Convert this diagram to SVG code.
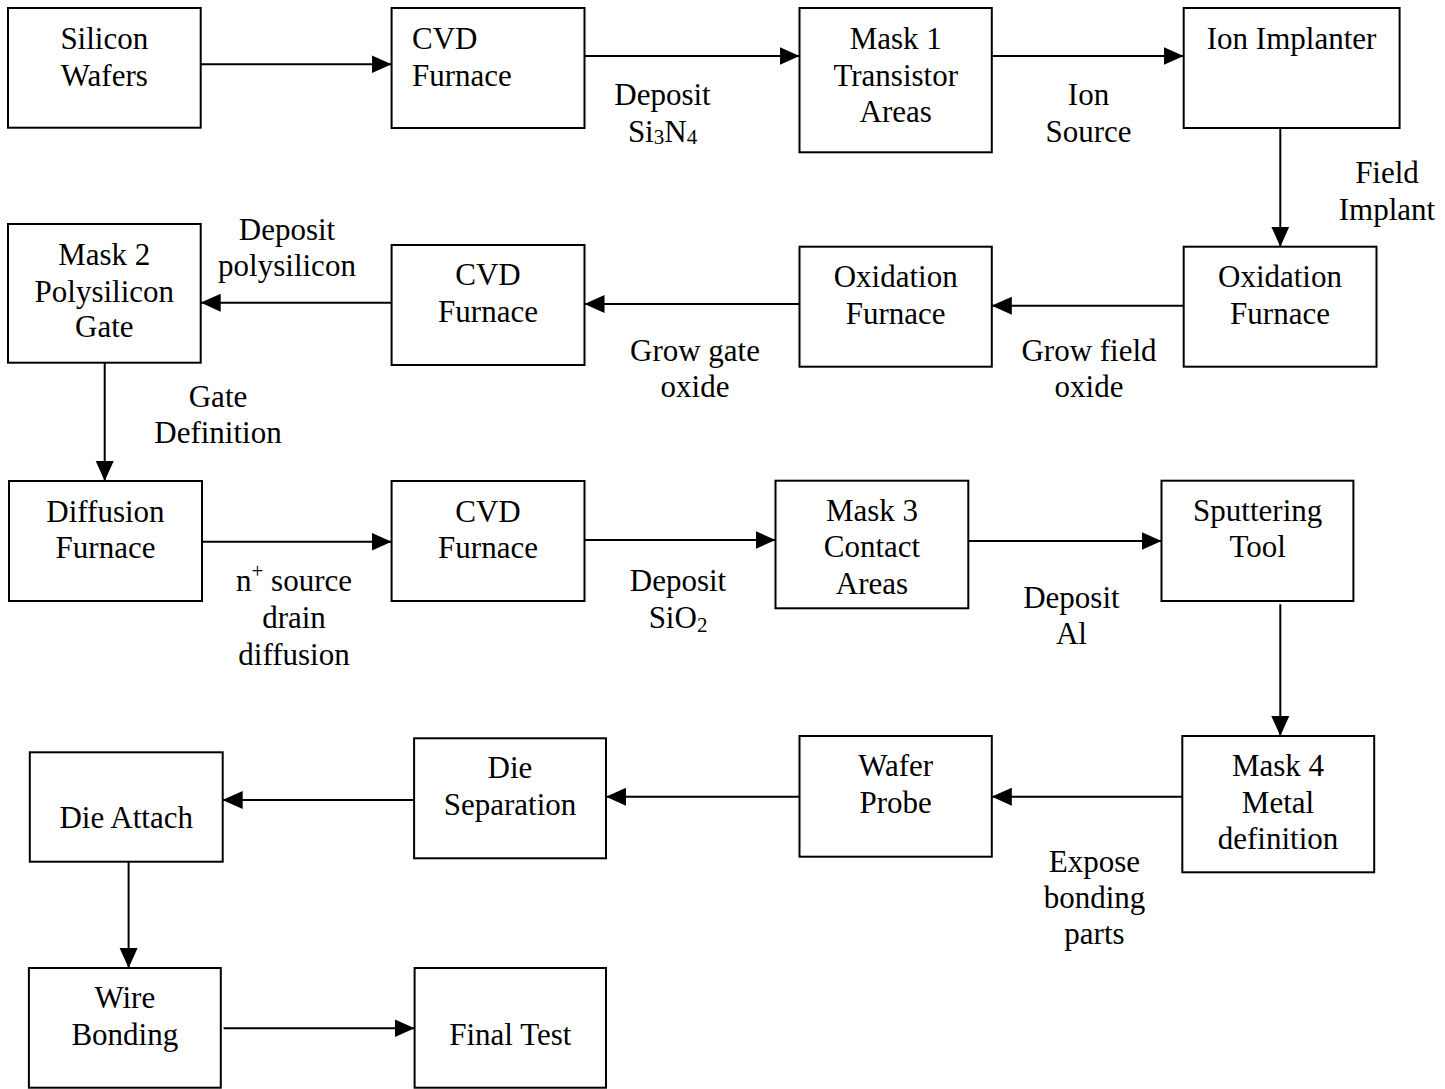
<svg xmlns="http://www.w3.org/2000/svg" width="1445" height="1089" viewBox="0 0 1445 1089">
<defs>
<style>
rect.box{fill:#fff;stroke:#000;stroke-width:2}
text{font-family:"Liberation Serif","Times New Roman",serif;font-size:31px;fill:#000}
.c{text-anchor:middle}
.conn line{stroke:#000;stroke-width:2;marker-end:url(#ah)}
.sub{font-size:21px}
</style>
<marker id="ah" markerUnits="userSpaceOnUse" markerWidth="20" markerHeight="20" viewBox="0 0 20 20" refX="20" refY="10" orient="auto">
<path d="M0,1 L20,10 L0,19 z" fill="#000"/>
</marker>
</defs>
<rect width="1445" height="1089" fill="#fff"/>

<g id="connectors" class="conn">
<line x1="200.7" y1="64.3" x2="391.6" y2="64.3"/>
<line x1="584.5" y1="56" x2="799.5" y2="56"/>
<line x1="991.8" y1="56" x2="1183.7" y2="56"/>
<line x1="1280.3" y1="128" x2="1280.3" y2="246.7"/>
<line x1="1183.7" y1="305.7" x2="991.8" y2="305.7"/>
<line x1="799.5" y1="304" x2="584.5" y2="304"/>
<line x1="391.6" y1="302.7" x2="200.7" y2="302.7"/>
<line x1="104.7" y1="362.7" x2="104.7" y2="481"/>
<line x1="200" y1="541.7" x2="391.6" y2="541.7"/>
<line x1="584.5" y1="540" x2="775.5" y2="540"/>
<line x1="968.3" y1="541" x2="1161.5" y2="541"/>
<line x1="1280.3" y1="604.3" x2="1280.3" y2="736"/>
<line x1="1184.6" y1="796.7" x2="991.8" y2="796.7"/>
<line x1="799.5" y1="796.7" x2="606" y2="796.7"/>
<line x1="417" y1="800" x2="222.7" y2="800"/>
<line x1="128.6" y1="861.7" x2="128.6" y2="968"/>
<line x1="223.6" y1="1028.3" x2="414.6" y2="1028.3"/>
</g>

<g id="silicon-wafers"><rect class="box" x="8" y="8" width="192.7" height="119.7"/>
<text class="c" x="104.3" y="49">Silicon</text><text class="c" x="104.3" y="86">Wafers</text></g>

<g id="cvd-furnace-1"><rect class="box" x="391.6" y="8" width="192.9" height="120"/>
<text x="412" y="49">CVD</text><text x="412" y="86">Furnace</text></g>

<g id="mask-1"><rect class="box" x="799.5" y="8" width="192.3" height="144.3"/>
<text class="c" x="895.7" y="49">Mask 1</text><text class="c" x="895.7" y="86">Transistor</text><text class="c" x="895.7" y="122">Areas</text></g>

<g id="ion-implanter"><rect class="box" x="1183.7" y="8" width="215.9" height="120"/>
<text class="c" x="1291.6" y="49">Ion Implanter</text></g>

<g id="oxidation-furnace-1"><rect class="box" x="1183.7" y="246.7" width="192.8" height="120"/>
<text class="c" x="1280" y="287">Oxidation</text><text class="c" x="1280" y="323.5">Furnace</text></g>

<g id="oxidation-furnace-2"><rect class="box" x="799.5" y="246.7" width="192.3" height="120"/>
<text class="c" x="895.7" y="287">Oxidation</text><text class="c" x="895.7" y="323.5">Furnace</text></g>

<g id="cvd-furnace-2"><rect class="box" x="391.6" y="245" width="192.9" height="120"/>
<text class="c" x="488" y="285">CVD</text><text class="c" x="488" y="321.7">Furnace</text></g>

<g id="mask-2"><rect class="box" x="8" y="224" width="192.7" height="138.7"/>
<text class="c" x="104.3" y="265">Mask 2</text><text class="c" x="104.3" y="301.7">Polysilicon</text><text class="c" x="104.3" y="337">Gate</text></g>

<g id="diffusion-furnace"><rect class="box" x="9" y="481" width="193" height="120"/>
<text class="c" x="105.5" y="521.7">Diffusion</text><text class="c" x="105.5" y="558.3">Furnace</text></g>

<g id="cvd-furnace-3"><rect class="box" x="391.6" y="481" width="192.9" height="120"/>
<text class="c" x="488" y="521.7">CVD</text><text class="c" x="488" y="558.3">Furnace</text></g>

<g id="mask-3"><rect class="box" x="775.5" y="480.7" width="192.8" height="127.6"/>
<text class="c" x="872" y="521">Mask 3</text><text class="c" x="872" y="557.3">Contact</text><text class="c" x="872" y="594.3">Areas</text></g>

<g id="sputtering-tool"><rect class="box" x="1161.5" y="480.7" width="191.9" height="120.3"/>
<text class="c" x="1257.7" y="521">Sputtering</text><text class="c" x="1257.7" y="557.3">Tool</text></g>

<g id="mask-4"><rect class="box" x="1182.3" y="736" width="191.9" height="136.3"/>
<text class="c" x="1278" y="776">Mask 4</text><text class="c" x="1278" y="812.7">Metal</text><text class="c" x="1278" y="849.3">definition</text></g>

<g id="wafer-probe"><rect class="box" x="799.5" y="736" width="192.3" height="120.7"/>
<text class="c" x="895.7" y="776">Wafer</text><text class="c" x="895.7" y="812.7">Probe</text></g>

<g id="die-separation"><rect class="box" x="414.1" y="738.3" width="191.9" height="120"/>
<text class="c" x="510" y="778.3">Die</text><text class="c" x="510" y="815">Separation</text></g>

<g id="die-attach"><rect class="box" x="29.8" y="752.3" width="192.9" height="109.4"/>
<text class="c" x="126.2" y="828.3">Die Attach</text></g>

<g id="wire-bonding"><rect class="box" x="28.9" y="968" width="191.9" height="119.7"/>
<text class="c" x="124.8" y="1008.3">Wire</text><text class="c" x="124.8" y="1045">Bonding</text></g>

<g id="final-test"><rect class="box" x="414.6" y="968" width="191.4" height="119.7"/>
<text class="c" x="510.3" y="1045">Final Test</text></g>

<g id="labels">
<text class="c" x="662.5" y="105">Deposit</text>
<text class="c" x="662.5" y="141.7">Si<tspan class="sub" dy="2">3</tspan><tspan dy="-2">N</tspan><tspan class="sub" dy="2">4</tspan></text>
<text class="c" x="1088.5" y="104.5">Ion</text>
<text class="c" x="1088.5" y="141.5">Source</text>
<text class="c" x="1387" y="183">Field</text>
<text class="c" x="1387" y="220">Implant</text>
<text class="c" x="1089" y="360.7">Grow field</text>
<text class="c" x="1089" y="396.7">oxide</text>
<text class="c" x="695" y="360.7">Grow gate</text>
<text class="c" x="695" y="396.7">oxide</text>
<text class="c" x="287" y="240">Deposit</text>
<text class="c" x="287" y="276">polysilicon</text>
<text class="c" x="218" y="407.3">Gate</text>
<text class="c" x="218" y="443.3">Definition</text>
<text class="c" x="294" y="590.7">n<tspan class="sub" dy="-13">+</tspan><tspan dy="13"> source</tspan></text>
<text class="c" x="294" y="628.3">drain</text>
<text class="c" x="294" y="665">diffusion</text>
<text class="c" x="678" y="591">Deposit</text>
<text class="c" x="678" y="628">SiO<tspan class="sub" dy="4">2</tspan></text>
<text class="c" x="1071.4" y="607.7">Deposit</text>
<text class="c" x="1071.4" y="644.3">Al</text>
<text class="c" x="1094.5" y="871.7">Expose</text>
<text class="c" x="1094.5" y="908.3">bonding</text>
<text class="c" x="1094.5" y="944.3">parts</text>
</g>
</svg>
